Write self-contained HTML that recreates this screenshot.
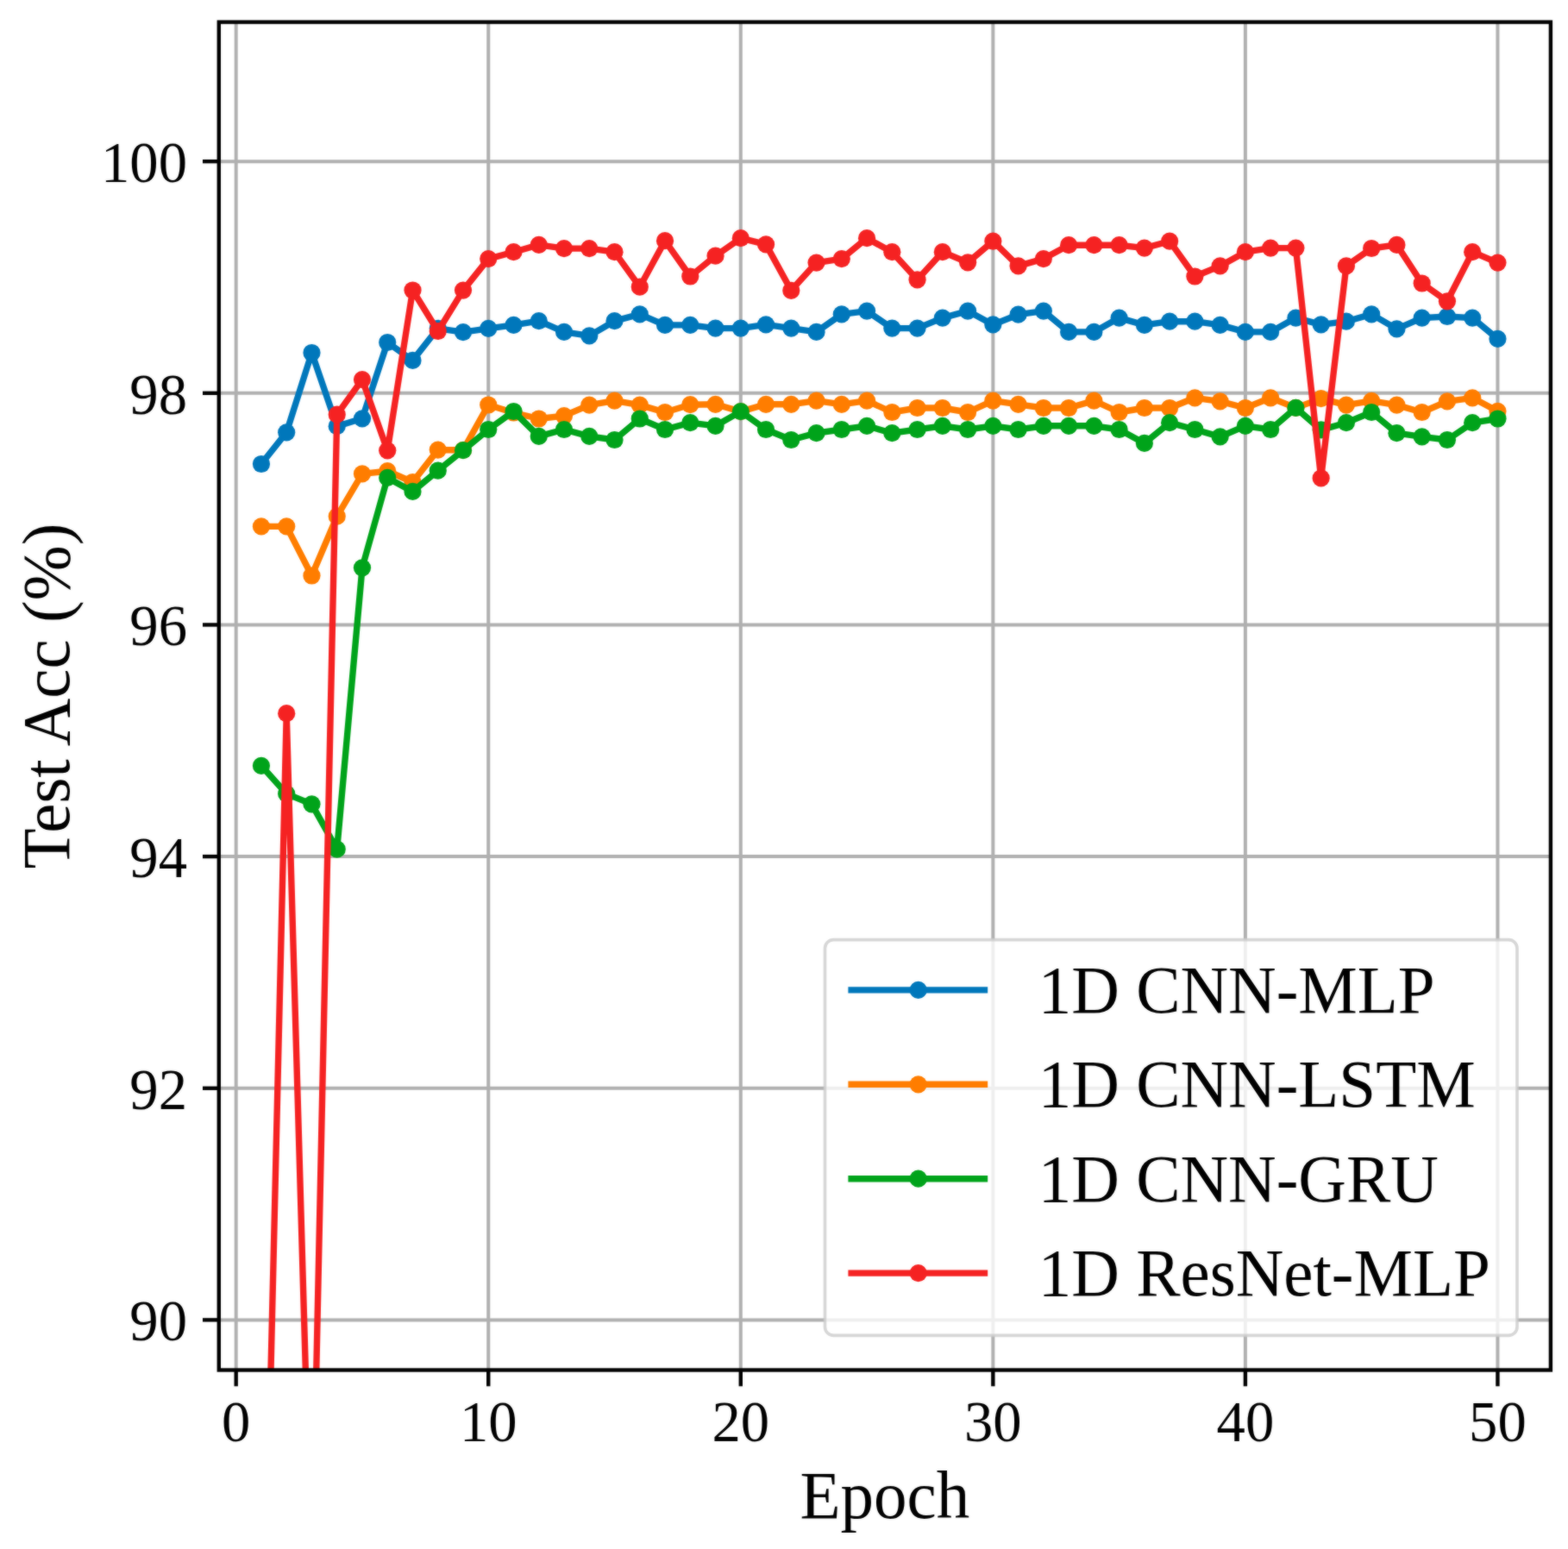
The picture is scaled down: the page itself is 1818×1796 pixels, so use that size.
<!DOCTYPE html>
<html lang="en"><head><meta charset="utf-8"><title>Test Acc (%) vs Epoch</title>
<style>html,body{margin:0;padding:0;background:#fff}body{width:1818px;height:1796px;overflow:hidden}svg{display:block}text{font-family:"Liberation Serif","Times New Roman",Times,serif;fill:#000}</style>
</head><body>
<svg width="1818" height="1796" viewBox="0 0 1818 1796">
<defs><filter id="soft" filterUnits="userSpaceOnUse" x="0" y="0" width="1818" height="1796" color-interpolation-filters="sRGB"><feGaussianBlur in="SourceGraphic" stdDeviation="1.0" result="b"/><feComposite in="b" in2="SourceGraphic" operator="arithmetic" k1="0" k2="0.45" k3="0.55" k4="0"/></filter></defs>
<defs><clipPath id="ax"><rect x="253.8" y="25.6" width="1544.1" height="1562.9"/></clipPath></defs>
<g filter="url(#soft)">
<rect x="-10" y="-10" width="1838" height="1816" fill="#fff"/>
<g stroke="#b0b0b0" stroke-width="4" fill="none">
<line x1="273.7" y1="25.6" x2="273.7" y2="1588.5"/>
<line x1="566.25" y1="25.6" x2="566.25" y2="1588.5"/>
<line x1="858.8" y1="25.6" x2="858.8" y2="1588.5"/>
<line x1="1151.35" y1="25.6" x2="1151.35" y2="1588.5"/>
<line x1="1443.9" y1="25.6" x2="1443.9" y2="1588.5"/>
<line x1="1736.45" y1="25.6" x2="1736.45" y2="1588.5"/>
<line x1="253.8" y1="1530.4" x2="1797.9" y2="1530.4"/>
<line x1="253.8" y1="1261.75" x2="1797.9" y2="1261.75"/>
<line x1="253.8" y1="993.1" x2="1797.9" y2="993.1"/>
<line x1="253.8" y1="724.45" x2="1797.9" y2="724.45"/>
<line x1="253.8" y1="455.8" x2="1797.9" y2="455.8"/>
<line x1="253.8" y1="187.15" x2="1797.9" y2="187.15"/>
</g>
<g clip-path="url(#ax)">
<polyline points="302.95,538 332.21,501.3 361.46,409 390.72,494.2 419.98,485.3 449.23,397 478.49,417.9 507.74,380.8 537,385.2 566.25,380.8 595.5,376.9 624.76,372.2 654.01,384.9 683.27,389.4 712.52,372.2 741.78,364.4 771.03,376.9 800.29,376.9 829.55,380.6 858.8,380.6 888.06,376.4 917.31,380.6 946.57,384.9 975.82,364.4 1005.08,360.6 1034.33,380.6 1063.59,380.6 1092.84,368.6 1122.1,360.6 1151.35,376.4 1180.61,364.7 1209.86,360.6 1239.12,384.9 1268.37,384.9 1297.62,368.6 1326.88,376.9 1356.13,372.7 1385.39,372.7 1414.64,376.9 1443.9,384.9 1473.15,384.9 1502.41,368.6 1531.66,376.4 1560.92,372.7 1590.17,364.4 1619.43,381.4 1648.68,368.6 1677.94,367 1707.19,368.6 1736.45,392.8" fill="none" stroke="#0077bb" stroke-width="7.4" stroke-linejoin="round" stroke-linecap="butt"/>
<g fill="#0077bb">
<circle cx="302.95" cy="538" r="10.1"/>
<circle cx="332.21" cy="501.3" r="10.1"/>
<circle cx="361.46" cy="409" r="10.1"/>
<circle cx="390.72" cy="494.2" r="10.1"/>
<circle cx="419.98" cy="485.3" r="10.1"/>
<circle cx="449.23" cy="397" r="10.1"/>
<circle cx="478.49" cy="417.9" r="10.1"/>
<circle cx="507.74" cy="380.8" r="10.1"/>
<circle cx="537" cy="385.2" r="10.1"/>
<circle cx="566.25" cy="380.8" r="10.1"/>
<circle cx="595.5" cy="376.9" r="10.1"/>
<circle cx="624.76" cy="372.2" r="10.1"/>
<circle cx="654.01" cy="384.9" r="10.1"/>
<circle cx="683.27" cy="389.4" r="10.1"/>
<circle cx="712.52" cy="372.2" r="10.1"/>
<circle cx="741.78" cy="364.4" r="10.1"/>
<circle cx="771.03" cy="376.9" r="10.1"/>
<circle cx="800.29" cy="376.9" r="10.1"/>
<circle cx="829.55" cy="380.6" r="10.1"/>
<circle cx="858.8" cy="380.6" r="10.1"/>
<circle cx="888.06" cy="376.4" r="10.1"/>
<circle cx="917.31" cy="380.6" r="10.1"/>
<circle cx="946.57" cy="384.9" r="10.1"/>
<circle cx="975.82" cy="364.4" r="10.1"/>
<circle cx="1005.08" cy="360.6" r="10.1"/>
<circle cx="1034.33" cy="380.6" r="10.1"/>
<circle cx="1063.59" cy="380.6" r="10.1"/>
<circle cx="1092.84" cy="368.6" r="10.1"/>
<circle cx="1122.1" cy="360.6" r="10.1"/>
<circle cx="1151.35" cy="376.4" r="10.1"/>
<circle cx="1180.61" cy="364.7" r="10.1"/>
<circle cx="1209.86" cy="360.6" r="10.1"/>
<circle cx="1239.12" cy="384.9" r="10.1"/>
<circle cx="1268.37" cy="384.9" r="10.1"/>
<circle cx="1297.62" cy="368.6" r="10.1"/>
<circle cx="1326.88" cy="376.9" r="10.1"/>
<circle cx="1356.13" cy="372.7" r="10.1"/>
<circle cx="1385.39" cy="372.7" r="10.1"/>
<circle cx="1414.64" cy="376.9" r="10.1"/>
<circle cx="1443.9" cy="384.9" r="10.1"/>
<circle cx="1473.15" cy="384.9" r="10.1"/>
<circle cx="1502.41" cy="368.6" r="10.1"/>
<circle cx="1531.66" cy="376.4" r="10.1"/>
<circle cx="1560.92" cy="372.7" r="10.1"/>
<circle cx="1590.17" cy="364.4" r="10.1"/>
<circle cx="1619.43" cy="381.4" r="10.1"/>
<circle cx="1648.68" cy="368.6" r="10.1"/>
<circle cx="1677.94" cy="367" r="10.1"/>
<circle cx="1707.19" cy="368.6" r="10.1"/>
<circle cx="1736.45" cy="392.8" r="10.1"/>
</g>
<polyline points="302.95,610.4 332.21,610.4 361.46,667.5 390.72,598.7 419.98,549.4 449.23,546.2 478.49,559 507.74,521.6 537,521.8 566.25,469.5 595.5,478.5 624.76,485.5 654.01,482.1 683.27,469.6 712.52,464.6 741.78,469.6 771.03,478 800.29,469.2 829.55,468.8 858.8,477.1 888.06,468.8 917.31,468.8 946.57,464.6 975.82,468.8 1005.08,464.6 1034.33,478 1063.59,473 1092.84,473 1122.1,478 1151.35,464.6 1180.61,468.8 1209.86,473 1239.12,473 1268.37,464.6 1297.62,478 1326.88,473 1356.13,473 1385.39,461.3 1414.64,465.4 1443.9,473 1473.15,461.3 1502.41,472.9 1531.66,462.2 1560.92,469.6 1590.17,464.8 1619.43,469.6 1648.68,478 1677.94,465.4 1707.19,461.3 1736.45,476.8" fill="none" stroke="#ff7d00" stroke-width="7.4" stroke-linejoin="round" stroke-linecap="butt"/>
<g fill="#ff7d00">
<circle cx="302.95" cy="610.4" r="10.1"/>
<circle cx="332.21" cy="610.4" r="10.1"/>
<circle cx="361.46" cy="667.5" r="10.1"/>
<circle cx="390.72" cy="598.7" r="10.1"/>
<circle cx="419.98" cy="549.4" r="10.1"/>
<circle cx="449.23" cy="546.2" r="10.1"/>
<circle cx="478.49" cy="559" r="10.1"/>
<circle cx="507.74" cy="521.6" r="10.1"/>
<circle cx="537" cy="521.8" r="10.1"/>
<circle cx="566.25" cy="469.5" r="10.1"/>
<circle cx="595.5" cy="478.5" r="10.1"/>
<circle cx="624.76" cy="485.5" r="10.1"/>
<circle cx="654.01" cy="482.1" r="10.1"/>
<circle cx="683.27" cy="469.6" r="10.1"/>
<circle cx="712.52" cy="464.6" r="10.1"/>
<circle cx="741.78" cy="469.6" r="10.1"/>
<circle cx="771.03" cy="478" r="10.1"/>
<circle cx="800.29" cy="469.2" r="10.1"/>
<circle cx="829.55" cy="468.8" r="10.1"/>
<circle cx="858.8" cy="477.1" r="10.1"/>
<circle cx="888.06" cy="468.8" r="10.1"/>
<circle cx="917.31" cy="468.8" r="10.1"/>
<circle cx="946.57" cy="464.6" r="10.1"/>
<circle cx="975.82" cy="468.8" r="10.1"/>
<circle cx="1005.08" cy="464.6" r="10.1"/>
<circle cx="1034.33" cy="478" r="10.1"/>
<circle cx="1063.59" cy="473" r="10.1"/>
<circle cx="1092.84" cy="473" r="10.1"/>
<circle cx="1122.1" cy="478" r="10.1"/>
<circle cx="1151.35" cy="464.6" r="10.1"/>
<circle cx="1180.61" cy="468.8" r="10.1"/>
<circle cx="1209.86" cy="473" r="10.1"/>
<circle cx="1239.12" cy="473" r="10.1"/>
<circle cx="1268.37" cy="464.6" r="10.1"/>
<circle cx="1297.62" cy="478" r="10.1"/>
<circle cx="1326.88" cy="473" r="10.1"/>
<circle cx="1356.13" cy="473" r="10.1"/>
<circle cx="1385.39" cy="461.3" r="10.1"/>
<circle cx="1414.64" cy="465.4" r="10.1"/>
<circle cx="1443.9" cy="473" r="10.1"/>
<circle cx="1473.15" cy="461.3" r="10.1"/>
<circle cx="1502.41" cy="472.9" r="10.1"/>
<circle cx="1531.66" cy="462.2" r="10.1"/>
<circle cx="1560.92" cy="469.6" r="10.1"/>
<circle cx="1590.17" cy="464.8" r="10.1"/>
<circle cx="1619.43" cy="469.6" r="10.1"/>
<circle cx="1648.68" cy="478" r="10.1"/>
<circle cx="1677.94" cy="465.4" r="10.1"/>
<circle cx="1707.19" cy="461.3" r="10.1"/>
<circle cx="1736.45" cy="476.8" r="10.1"/>
</g>
<polyline points="302.95,887.8 332.21,920.4 361.46,932.4 390.72,984.7 419.98,658.3 449.23,553.9 478.49,569.9 507.74,545.7 537,522.2 566.25,498 595.5,477 624.76,505.9 654.01,498 683.27,505.9 712.52,510 741.78,485.5 771.03,498 800.29,490.2 829.55,493.8 858.8,477.1 888.06,498 917.31,510 946.57,502.2 975.82,498 1005.08,493.8 1034.33,502.2 1063.59,498 1092.84,493.8 1122.1,498 1151.35,493.8 1180.61,498 1209.86,493.8 1239.12,493.8 1268.37,493.8 1297.62,498 1326.88,513.9 1356.13,490.2 1385.39,498 1414.64,506.4 1443.9,493.8 1473.15,498 1502.41,472.9 1531.66,498.4 1560.92,490.2 1590.17,478 1619.43,502.2 1648.68,506.4 1677.94,510 1707.19,490.2 1736.45,485.5" fill="none" stroke="#00a31a" stroke-width="7.4" stroke-linejoin="round" stroke-linecap="butt"/>
<g fill="#00a31a">
<circle cx="302.95" cy="887.8" r="10.1"/>
<circle cx="332.21" cy="920.4" r="10.1"/>
<circle cx="361.46" cy="932.4" r="10.1"/>
<circle cx="390.72" cy="984.7" r="10.1"/>
<circle cx="419.98" cy="658.3" r="10.1"/>
<circle cx="449.23" cy="553.9" r="10.1"/>
<circle cx="478.49" cy="569.9" r="10.1"/>
<circle cx="507.74" cy="545.7" r="10.1"/>
<circle cx="537" cy="522.2" r="10.1"/>
<circle cx="566.25" cy="498" r="10.1"/>
<circle cx="595.5" cy="477" r="10.1"/>
<circle cx="624.76" cy="505.9" r="10.1"/>
<circle cx="654.01" cy="498" r="10.1"/>
<circle cx="683.27" cy="505.9" r="10.1"/>
<circle cx="712.52" cy="510" r="10.1"/>
<circle cx="741.78" cy="485.5" r="10.1"/>
<circle cx="771.03" cy="498" r="10.1"/>
<circle cx="800.29" cy="490.2" r="10.1"/>
<circle cx="829.55" cy="493.8" r="10.1"/>
<circle cx="858.8" cy="477.1" r="10.1"/>
<circle cx="888.06" cy="498" r="10.1"/>
<circle cx="917.31" cy="510" r="10.1"/>
<circle cx="946.57" cy="502.2" r="10.1"/>
<circle cx="975.82" cy="498" r="10.1"/>
<circle cx="1005.08" cy="493.8" r="10.1"/>
<circle cx="1034.33" cy="502.2" r="10.1"/>
<circle cx="1063.59" cy="498" r="10.1"/>
<circle cx="1092.84" cy="493.8" r="10.1"/>
<circle cx="1122.1" cy="498" r="10.1"/>
<circle cx="1151.35" cy="493.8" r="10.1"/>
<circle cx="1180.61" cy="498" r="10.1"/>
<circle cx="1209.86" cy="493.8" r="10.1"/>
<circle cx="1239.12" cy="493.8" r="10.1"/>
<circle cx="1268.37" cy="493.8" r="10.1"/>
<circle cx="1297.62" cy="498" r="10.1"/>
<circle cx="1326.88" cy="513.9" r="10.1"/>
<circle cx="1356.13" cy="490.2" r="10.1"/>
<circle cx="1385.39" cy="498" r="10.1"/>
<circle cx="1414.64" cy="506.4" r="10.1"/>
<circle cx="1443.9" cy="493.8" r="10.1"/>
<circle cx="1473.15" cy="498" r="10.1"/>
<circle cx="1502.41" cy="472.9" r="10.1"/>
<circle cx="1531.66" cy="498.4" r="10.1"/>
<circle cx="1560.92" cy="490.2" r="10.1"/>
<circle cx="1590.17" cy="478" r="10.1"/>
<circle cx="1619.43" cy="502.2" r="10.1"/>
<circle cx="1648.68" cy="506.4" r="10.1"/>
<circle cx="1677.94" cy="510" r="10.1"/>
<circle cx="1707.19" cy="490.2" r="10.1"/>
<circle cx="1736.45" cy="485.5" r="10.1"/>
</g>
<polyline points="302.95,2052 332.21,827.2 361.46,1835 390.72,480.7 419.98,440.1 449.23,522.3 478.49,336.5 507.74,384 537,336.6 566.25,300.1 595.5,292.2 624.76,283.9 654.01,288.1 683.27,288.1 712.52,292.2 741.78,332.7 771.03,279.2 800.29,320.5 829.55,296.7 858.8,276.2 888.06,283.4 917.31,336.8 946.57,304.6 975.82,300.1 1005.08,276.2 1034.33,292.2 1063.59,324.3 1092.84,292.2 1122.1,304.3 1151.35,279.7 1180.61,308.4 1209.86,300.1 1239.12,284.2 1268.37,284.2 1297.62,284.2 1326.88,287.6 1356.13,279.7 1385.39,320.5 1414.64,308.4 1443.9,292.2 1473.15,287.6 1502.41,287.6 1531.66,554.4 1560.92,308.4 1590.17,288 1619.43,283.9 1648.68,328.5 1677.94,349.3 1707.19,292.2 1736.45,304.6" fill="none" stroke="#f52222" stroke-width="7.4" stroke-linejoin="round" stroke-linecap="butt"/>
<g fill="#f52222">
<circle cx="332.21" cy="827.2" r="10.1"/>
<circle cx="390.72" cy="480.7" r="10.1"/>
<circle cx="419.98" cy="440.1" r="10.1"/>
<circle cx="449.23" cy="522.3" r="10.1"/>
<circle cx="478.49" cy="336.5" r="10.1"/>
<circle cx="507.74" cy="384" r="10.1"/>
<circle cx="537" cy="336.6" r="10.1"/>
<circle cx="566.25" cy="300.1" r="10.1"/>
<circle cx="595.5" cy="292.2" r="10.1"/>
<circle cx="624.76" cy="283.9" r="10.1"/>
<circle cx="654.01" cy="288.1" r="10.1"/>
<circle cx="683.27" cy="288.1" r="10.1"/>
<circle cx="712.52" cy="292.2" r="10.1"/>
<circle cx="741.78" cy="332.7" r="10.1"/>
<circle cx="771.03" cy="279.2" r="10.1"/>
<circle cx="800.29" cy="320.5" r="10.1"/>
<circle cx="829.55" cy="296.7" r="10.1"/>
<circle cx="858.8" cy="276.2" r="10.1"/>
<circle cx="888.06" cy="283.4" r="10.1"/>
<circle cx="917.31" cy="336.8" r="10.1"/>
<circle cx="946.57" cy="304.6" r="10.1"/>
<circle cx="975.82" cy="300.1" r="10.1"/>
<circle cx="1005.08" cy="276.2" r="10.1"/>
<circle cx="1034.33" cy="292.2" r="10.1"/>
<circle cx="1063.59" cy="324.3" r="10.1"/>
<circle cx="1092.84" cy="292.2" r="10.1"/>
<circle cx="1122.1" cy="304.3" r="10.1"/>
<circle cx="1151.35" cy="279.7" r="10.1"/>
<circle cx="1180.61" cy="308.4" r="10.1"/>
<circle cx="1209.86" cy="300.1" r="10.1"/>
<circle cx="1239.12" cy="284.2" r="10.1"/>
<circle cx="1268.37" cy="284.2" r="10.1"/>
<circle cx="1297.62" cy="284.2" r="10.1"/>
<circle cx="1326.88" cy="287.6" r="10.1"/>
<circle cx="1356.13" cy="279.7" r="10.1"/>
<circle cx="1385.39" cy="320.5" r="10.1"/>
<circle cx="1414.64" cy="308.4" r="10.1"/>
<circle cx="1443.9" cy="292.2" r="10.1"/>
<circle cx="1473.15" cy="287.6" r="10.1"/>
<circle cx="1502.41" cy="287.6" r="10.1"/>
<circle cx="1531.66" cy="554.4" r="10.1"/>
<circle cx="1560.92" cy="308.4" r="10.1"/>
<circle cx="1590.17" cy="288" r="10.1"/>
<circle cx="1619.43" cy="283.9" r="10.1"/>
<circle cx="1648.68" cy="328.5" r="10.1"/>
<circle cx="1677.94" cy="349.3" r="10.1"/>
<circle cx="1707.19" cy="292.2" r="10.1"/>
<circle cx="1736.45" cy="304.6" r="10.1"/>
</g>
</g>
<g stroke="#000" stroke-width="4.4">
<line x1="273.7" y1="1588.5" x2="273.7" y2="1607.3"/>
<line x1="566.25" y1="1588.5" x2="566.25" y2="1607.3"/>
<line x1="858.8" y1="1588.5" x2="858.8" y2="1607.3"/>
<line x1="1151.35" y1="1588.5" x2="1151.35" y2="1607.3"/>
<line x1="1443.9" y1="1588.5" x2="1443.9" y2="1607.3"/>
<line x1="1736.45" y1="1588.5" x2="1736.45" y2="1607.3"/>
<line x1="235" y1="1530.4" x2="253.8" y2="1530.4"/>
<line x1="235" y1="1261.75" x2="253.8" y2="1261.75"/>
<line x1="235" y1="993.1" x2="253.8" y2="993.1"/>
<line x1="235" y1="724.45" x2="253.8" y2="724.45"/>
<line x1="235" y1="455.8" x2="253.8" y2="455.8"/>
<line x1="235" y1="187.15" x2="253.8" y2="187.15"/>
</g>
<rect x="253.8" y="25.6" width="1544.1" height="1562.9" fill="none" stroke="#000" stroke-width="4.4"/>
<g font-size="66.67" text-anchor="middle">
<text transform="translate(273.7,1670.6) scale(1,1.028)">0</text>
<text transform="translate(566.25,1670.6) scale(1,1.028)">10</text>
<text transform="translate(858.8,1670.6) scale(1,1.028)">20</text>
<text transform="translate(1151.35,1670.6) scale(1,1.028)">30</text>
<text transform="translate(1443.9,1670.6) scale(1,1.028)">40</text>
<text transform="translate(1736.45,1670.6) scale(1,1.028)">50</text>
</g>
<g font-size="66.67" text-anchor="end">
<text transform="translate(217,1554.2) scale(1,1.028)">90</text>
<text transform="translate(217,1285.55) scale(1,1.028)">92</text>
<text transform="translate(217,1016.9) scale(1,1.028)">94</text>
<text transform="translate(217,748.25) scale(1,1.028)">96</text>
<text transform="translate(217,479.6) scale(1,1.028)">98</text>
<text transform="translate(217,210.95) scale(1,1.028)">100</text>
</g>
<text transform="translate(1025.85,1760.2) scale(1,1.028)" font-size="77" text-anchor="middle">Epoch</text>
<text transform="translate(79.5,807.05) rotate(-90) scale(1,1.028)" font-size="77" text-anchor="middle">Test Acc (%)</text>
<rect x="956.5" y="1089.6" width="802.5" height="458.8" rx="10" ry="10" fill="#fff" fill-opacity="0.8" stroke="#ccc" stroke-opacity="0.8" stroke-width="3.6"/>
<line x1="983.4" y1="1147.9" x2="1145.2" y2="1147.9" stroke="#0077bb" stroke-width="7.4"/>
<circle cx="1064.7" cy="1147.9" r="10.1" fill="#0077bb"/>
<text transform="translate(1203.8,1174) scale(1,1.028)" font-size="77">1D CNN-MLP</text>
<line x1="983.4" y1="1257.3" x2="1145.2" y2="1257.3" stroke="#ff7d00" stroke-width="7.4"/>
<circle cx="1064.7" cy="1257.3" r="10.1" fill="#ff7d00"/>
<text transform="translate(1203.8,1283.4) scale(1,1.028)" font-size="77">1D CNN-LSTM</text>
<line x1="983.4" y1="1366.7" x2="1145.2" y2="1366.7" stroke="#00a31a" stroke-width="7.4"/>
<circle cx="1064.7" cy="1366.7" r="10.1" fill="#00a31a"/>
<text transform="translate(1203.8,1392.8) scale(1,1.028)" font-size="77">1D CNN-GRU</text>
<line x1="983.4" y1="1476.1" x2="1145.2" y2="1476.1" stroke="#f52222" stroke-width="7.4"/>
<circle cx="1064.7" cy="1476.1" r="10.1" fill="#f52222"/>
<text transform="translate(1203.8,1502.2) scale(1,1.028)" font-size="77">1D ResNet-MLP</text>
</g>
</svg></body></html>
